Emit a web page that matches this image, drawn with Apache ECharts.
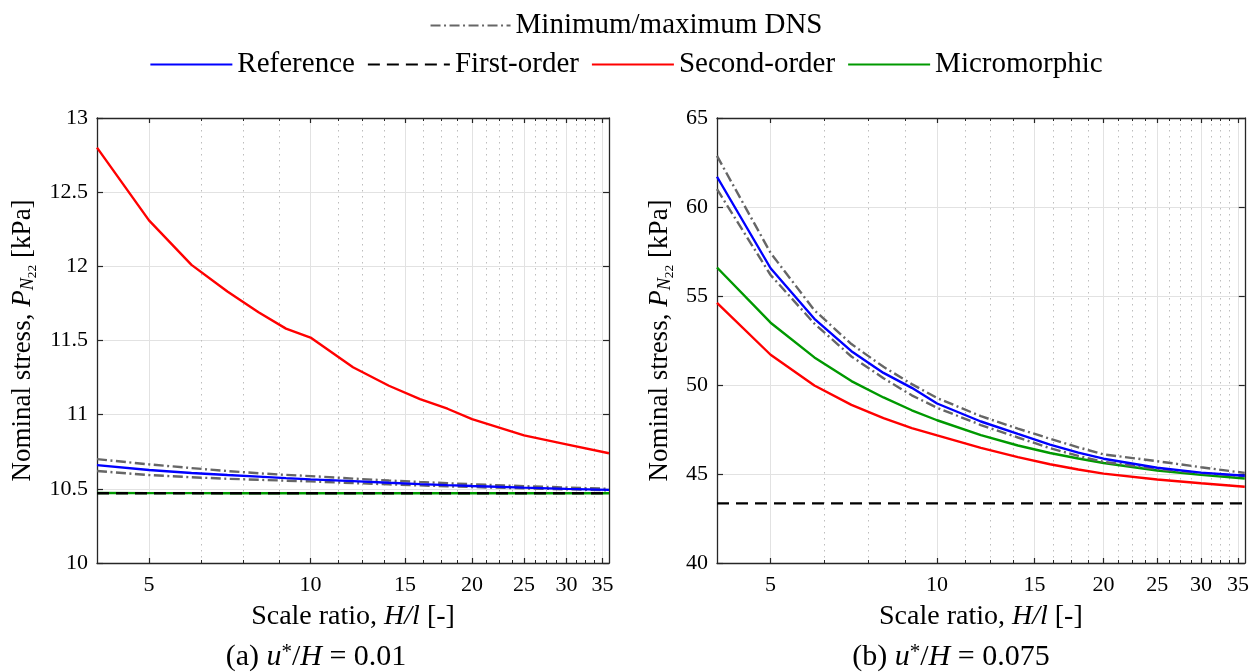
<!DOCTYPE html>
<html>
<head>
<meta charset="utf-8">
<script src="https://cdn.jsdelivr.net/npm/echarts@6/dist/echarts.min.js"></script>
<style>
  html, body { margin: 0; padding: 0; background: #fff; }
  #chart { width: 1252px; height: 672px; }
</style>
</head>
<body>
<div id="chart"></div>
<script>
// scale ratio H/l sampled in both panels
const scaleRatio = [4, 5, 6, 7, 8, 9, 10, 12, 14, 16, 18, 20, 25, 30, 36];
const xTicks = [5, 10, 15, 20, 25, 30, 35];
const xMinorTicks = [6.25, 7.5, 8.75, 11.25, 12.5, 13.75, 16.25, 17.5, 18.75,
  21.25, 22.5, 23.75, 26.25, 27.5, 28.75, 31.25, 32.5, 33.75];

// (a) u*/H = 0.01
const refA    = [10.66, 10.627, 10.607, 10.593, 10.582, 10.572, 10.564, 10.552, 10.541, 10.532, 10.525, 10.519, 10.508, 10.500, 10.493];
const dnsMaxA = [10.70, 10.665, 10.640, 10.620, 10.605, 10.594, 10.586, 10.569, 10.556, 10.546, 10.538, 10.531, 10.518, 10.509, 10.500];
const dnsMinA = [10.62, 10.593, 10.578, 10.568, 10.561, 10.555, 10.550, 10.539, 10.530, 10.523, 10.517, 10.512, 10.503, 10.497, 10.490];
const firstA  = [10.47, 10.47, 10.47, 10.47, 10.47, 10.47, 10.47, 10.47, 10.47, 10.47, 10.47, 10.47, 10.47, 10.47, 10.47];
const secondA = [12.80, 12.31, 12.01, 11.83, 11.69, 11.58, 11.52, 11.32, 11.195, 11.105, 11.04, 10.97, 10.86, 10.80, 10.74];
const microA  = [10.472, 10.471, 10.471, 10.47, 10.47, 10.47, 10.47, 10.47, 10.47, 10.47, 10.47, 10.47, 10.47, 10.47, 10.47];

// (b) u*/H = 0.075
const refB    = [61.70, 56.56, 53.72, 51.90, 50.68, 49.84, 48.96, 47.95, 47.25, 46.65, 46.20, 45.86, 45.35, 45.08, 44.90];
const dnsMaxB = [62.87, 57.42, 54.20, 52.30, 51.02, 50.05, 49.27, 48.25, 47.55, 46.98, 46.50, 46.10, 45.72, 45.38, 45.06];
const dnsMinB = [61.00, 56.18, 53.45, 51.60, 50.38, 49.42, 48.72, 47.75, 47.05, 46.45, 46.02, 45.68, 45.28, 45.05, 44.88];
const firstB  = [43.35, 43.35, 43.35, 43.35, 43.35, 43.35, 43.35, 43.35, 43.35, 43.35, 43.35, 43.35, 43.35, 43.35, 43.35];
const secondB = [54.62, 51.70, 49.97, 48.88, 48.14, 47.58, 47.17, 46.47, 45.95, 45.55, 45.25, 45.02, 44.69, 44.48, 44.28];
const microB  = [56.60, 53.50, 51.55, 50.22, 49.30, 48.58, 48.02, 47.18, 46.60, 46.18, 45.87, 45.62, 45.20, 44.95, 44.75];

const FONT = 'Liberation Serif';
const AXIS = '#262626';
const X_MIN = Math.log10(4);
const X_MAX = Math.log10(36);

const toPairs = ys => scaleRatio.map((x, i) => [Math.log10(x), ys[i]]);

const richText = size => ({
  t: { fontFamily: FONT, fontSize: size, color: '#000' },
  i: { fontFamily: FONT, fontSize: size, fontStyle: 'italic', color: '#000' },
  s: { fontFamily: FONT, fontSize: size * 0.68, fontStyle: 'italic', color: '#000', padding: [10, 0, 0, 0] },
  ss: { fontFamily: FONT, fontSize: size * 0.5, color: '#000', padding: [18, 0, 0, 0] },
  sup: { fontFamily: FONT, fontSize: size * 0.7, color: '#000', padding: [0, 0, 10, 0] }
});

function xAxes(grid) {
  const base = { gridIndex: grid, type: 'value', min: X_MIN, max: X_MAX };
  const majorTick = { show: true, inside: true, length: 5, customValues: xTicks.map(v => Math.log10(v)), lineStyle: { color: AXIS, width: 1.2 } };
  const minorTick = { show: true, inside: true, length: 3, customValues: xMinorTicks.map(v => Math.log10(v)), lineStyle: { color: AXIS, width: 1 } };
  return [
    Object.assign({}, base, {
      position: 'bottom',
      axisLine: { show: true, onZero: false, lineStyle: { color: AXIS, width: 1.3 } },
      axisTick: majorTick,
      axisLabel: {
        customValues: xTicks.map(v => Math.log10(v)),
        formatter: v => String(Math.round(Math.pow(10, v))),
        margin: 11, color: '#000', fontFamily: FONT, fontSize: 22
      },
      splitLine: { show: true, lineStyle: { color: '#e2e2e2', width: 1 } },
      name: '{t|Scale ratio, }{i|H/l}{t| [-]}',
      nameLocation: 'middle',
      nameGap: 40,
      nameTextStyle: { rich: richText(28) }
    }),
    Object.assign({}, base, {
      position: 'top',
      axisLine: { show: true, onZero: false, lineStyle: { color: AXIS, width: 1.3 } },
      axisTick: majorTick,
      axisLabel: { show: false },
      splitLine: { show: false }
    }),
    Object.assign({}, base, {
      position: 'bottom',
      axisLine: { show: false },
      axisTick: minorTick,
      axisLabel: { show: false },
      splitLine: { show: true, lineStyle: { color: '#bdbdbd', width: 1, type: [1.5, 4.5] } }
    }),
    Object.assign({}, base, {
      position: 'top',
      axisLine: { show: false },
      axisTick: minorTick,
      axisLabel: { show: false },
      splitLine: { show: false }
    })
  ];
}

function yAxes(grid, min, max, interval, nameGap) {
  return [
    {
      gridIndex: grid, type: 'value', position: 'left', min, max, interval,
      axisLine: { show: true, onZero: false, lineStyle: { color: AXIS, width: 1.3 } },
      axisTick: { show: true, inside: true, length: 6, lineStyle: { color: AXIS, width: 1.2 } },
      axisLabel: { margin: 9, color: '#000', fontFamily: FONT, fontSize: 22 },
      splitLine: { show: true, lineStyle: { color: '#e2e2e2', width: 1 } },
      name: '{t|Nominal stress, }{i|P}{s|N}{ss|22}{t| [kPa]}',
      nameLocation: 'middle',
      nameGap,
      nameTextStyle: { rich: richText(27) }
    },
    {
      gridIndex: grid, type: 'value', position: 'right', min, max, interval,
      axisLine: { show: true, onZero: false, lineStyle: { color: AXIS, width: 1.3 } },
      axisTick: { show: true, inside: true, length: 6, lineStyle: { color: AXIS, width: 1.2 } },
      axisLabel: { show: false },
      splitLine: { show: false }
    }
  ];
}

function line(name, ys, color, type, xi, yi, z) {
  return {
    name, type: 'line', xAxisIndex: xi, yAxisIndex: yi,
    data: toPairs(ys), symbol: 'none', z,
    lineStyle: { color, width: 2.4, type },
    itemStyle: { color },
    emphasis: { disabled: true }, silent: true
  };
}

const DASHDOT = [10, 3.5, 2, 3.5];
const DASH = [12, 7];

function panelSeries(xi, yi, ref, dMax, dMin, first, second, micro) {
  return [
    line('Micromorphic', micro, '#009900', 'solid', xi, yi, 2),
    line('First-order', first, '#000000', DASH, xi, yi, 3),
    line('Second-order', second, '#ff0000', 'solid', xi, yi, 4),
    line('Minimum/maximum DNS', dMax, '#666666', DASHDOT, xi, yi, 5),
    line('Minimum/maximum DNS', dMin, '#666666', DASHDOT, xi, yi, 5),
    line('Reference', ref, '#0000ff', 'solid', xi, yi, 6)
  ];
}

const legendText = { fontFamily: FONT, fontSize: 29, color: '#000' };

const chart = echarts.init(document.getElementById('chart'));
chart.setOption({
  animation: false,
  backgroundColor: '#fff',
  legend: [
    {
      data: ['Minimum/maximum DNS'], top: 6, left: 'center',
      itemWidth: 80, itemHeight: 10, selectedMode: false,
      itemStyle: { opacity: 0 },
      textStyle: legendText
    },
    {
      data: ['Reference', 'First-order', 'Second-order', 'Micromorphic'], top: 45, left: 'center',
      itemWidth: 82, itemHeight: 10, itemGap: 12, selectedMode: false,
      itemStyle: { opacity: 0 },
      textStyle: legendText
    }
  ],
  grid: [
    { left: 97, top: 118, width: 512, height: 445 },
    { left: 717, top: 118, width: 529, height: 445 }
  ],
  xAxis: xAxes(0).concat(xAxes(1)),
  yAxis: yAxes(0, 10, 13, 0.5, 58).concat(yAxes(1, 40, 65, 5, 41)),
  series: panelSeries(0, 0, refA, dnsMaxA, dnsMinA, firstA, secondA, microA)
    .concat(panelSeries(4, 2, refB, dnsMaxB, dnsMinB, firstB, secondB, microB)),
  graphic: [
    {
      type: 'text', x: 316, y: 657,
      style: {
        text: '{t|(a) }{i|u}{sup|*}{t|/}{i|H}{t| = 0.01}',
        rich: richText(30), textAlign: 'center', textVerticalAlign: 'middle'
      }
    },
    {
      type: 'text', x: 951, y: 657,
      style: {
        text: '{t|(b) }{i|u}{sup|*}{t|/}{i|H}{t| = 0.075}',
        rich: richText(30), textAlign: 'center', textVerticalAlign: 'middle'
      }
    }
  ]
});
</script>
</body>
</html>
